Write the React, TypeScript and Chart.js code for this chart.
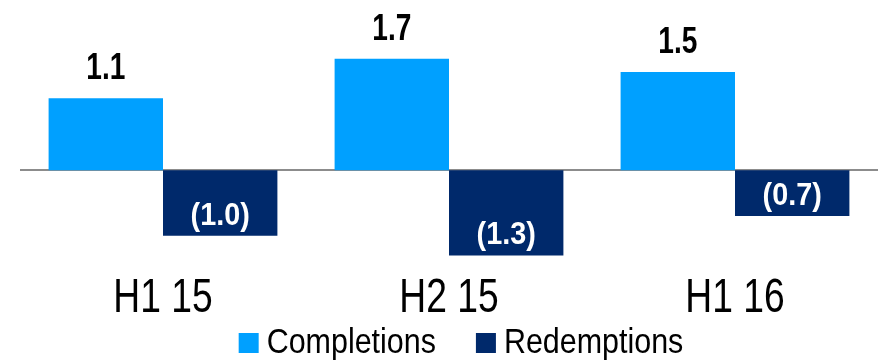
import React, { useEffect, useRef } from "react";
import { Chart, registerables } from "chart.js";

Chart.register(...registerables);

const categories = ["H1 15", "H2 15", "H1 16"];
const completions = [1.1, 1.7, 1.5];
const redemptions = [-1.0, -1.3, -0.7];

const COMPLETIONS_COLOR = "#00A0FF";
const REDEMPTIONS_COLOR = "#00296B";
const FONT = "'Liberation Sans', Arial, sans-serif";

const formatValue = (v: number) => (v < 0 ? `(${Math.abs(v).toFixed(1)})` : v.toFixed(1));

// Draws text squeezed horizontally to mimic a condensed typeface
function drawCondensed(ctx: CanvasRenderingContext2D, text: string, x: number, y: number, squeeze: number) {
  ctx.save();
  ctx.translate(x, y);
  ctx.scale(squeeze, 1);
  ctx.fillText(text, 0, 0);
  ctx.restore();
}

// Value labels: above positive bars in black, inside negative bars in white
const valueLabels = {
  id: "valueLabels",
  afterDatasetsDraw(chart: any) {
    const { ctx } = chart;
    ctx.save();
    ctx.textAlign = "center";
    ctx.textBaseline = "alphabetic";
    chart.data.datasets.forEach((ds: any, di: number) => {
      const meta = chart.getDatasetMeta(di);
      meta.data.forEach((bar: any, i: number) => {
        const v = ds.data[i] as number;
        const text = formatValue(v);
        if (v >= 0) {
          ctx.font = `bold 37px ${FONT}`;
          ctx.fillStyle = "#000000";
          drawCondensed(ctx, text, bar.x, bar.y - 19, 0.76);
        } else {
          ctx.font = `bold 32px ${FONT}`;
          ctx.fillStyle = "#FFFFFF";
          drawCondensed(ctx, text, bar.x, bar.y - 11, 0.9);
        }
      });
    });
    ctx.restore();
  },
};

// Category names under the axis, placed from the x scale
const categoryLabels = {
  id: "categoryLabels",
  afterDraw(chart: any) {
    const { ctx } = chart;
    const xScale = chart.scales.x;
    ctx.save();
    ctx.font = `49px ${FONT}`;
    ctx.fillStyle = "#000000";
    ctx.textAlign = "center";
    ctx.textBaseline = "alphabetic";
    (chart.data.labels as string[]).forEach((label, i) => {
      drawCondensed(ctx, label, xScale.getPixelForTick(i), 312, 0.76);
    });
    ctx.restore();
  },
};

// Legend row built from the datasets
const legendRow = {
  id: "legendRow",
  afterDraw(chart: any) {
    const { ctx } = chart;
    const squeeze = 0.87;
    const box = 20;
    const boxGap = 8;
    const itemGap = 40;
    const center = 461;
    const baseline = 353;
    ctx.save();
    ctx.font = `35px ${FONT}`;
    ctx.textAlign = "left";
    ctx.textBaseline = "alphabetic";
    const items = chart.data.datasets.map((ds: any) => ({
      label: ds.label as string,
      color: ds.backgroundColor as string,
      w: ctx.measureText(ds.label).width * squeeze,
    }));
    const total = items.reduce((s: number, it: any) => s + box + boxGap + it.w, 0) + itemGap * (items.length - 1);
    let x = center - total / 2;
    items.forEach((it: any) => {
      ctx.fillStyle = it.color;
      ctx.fillRect(x, baseline - box, box, box);
      x += box + boxGap;
      ctx.fillStyle = "#000000";
      drawCondensed(ctx, it.label, x, baseline, squeeze);
      x += it.w + itemGap;
    });
    ctx.restore();
  },
};

export default function App() {
  const canvasRef = useRef<HTMLCanvasElement | null>(null);

  useEffect(() => {
    document.body.style.margin = "0";
    const canvas = canvasRef.current;
    if (!canvas) return;
    const chart = new Chart(canvas, {
      type: "bar",
      data: {
        labels: categories,
        datasets: [
          {
            label: "Completions",
            data: completions,
            backgroundColor: COMPLETIONS_COLOR,
            categoryPercentage: 0.8,
            barPercentage: 1.0,
          },
          {
            label: "Redemptions",
            data: redemptions,
            backgroundColor: REDEMPTIONS_COLOR,
            categoryPercentage: 0.8,
            barPercentage: 1.0,
          },
        ],
      },
      options: {
        animation: false,
        responsive: true,
        maintainAspectRatio: false,
        layout: { padding: { left: 20, right: 0, top: 19.5, bottom: 92.5 } },
        scales: {
          x: {
            afterFit: (s: any) => {
              s.height = 0;
            },
            grid: { display: false },
            border: { display: false },
            ticks: { display: false },
          },
          y: {
            min: -1.5,
            max: 2.3,
            afterFit: (s: any) => {
              s.width = 0;
            },
            border: { display: false },
            ticks: { display: false, stepSize: 0.1 },
            grid: {
              drawTicks: false,
              lineWidth: 2,
              color: (c: any) => (c.tick && Math.abs(c.tick.value) < 1e-9 ? "#8C8C8C" : "rgba(0,0,0,0)"),
            },
          },
        },
        plugins: {
          legend: { display: false },
          tooltip: { enabled: false },
        },
      },
      plugins: [valueLabels, categoryLabels, legendRow],
    });
    return () => chart.destroy();
  }, []);

  return (
    <div style={{ width: 878, height: 361, position: "relative" }}>
      <canvas ref={canvasRef} />
    </div>
  );
}
